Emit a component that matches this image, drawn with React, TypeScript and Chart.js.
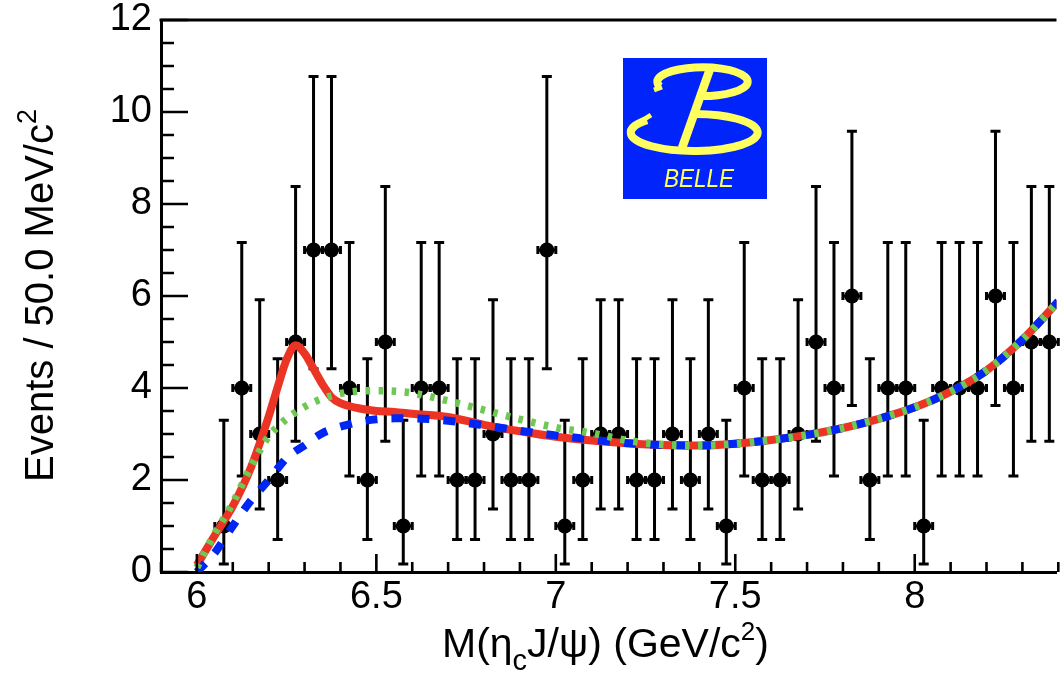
import React, { useEffect, useRef } from 'react';
import { Chart, registerables } from 'chart.js';

Chart.register(...registerables);

// ---------------- data ----------------
const binCenters = [
  6.075, 6.125, 6.175, 6.225, 6.275, 6.325, 6.375, 6.425, 6.475, 6.525,
  6.575, 6.625, 6.675, 6.725, 6.775, 6.825, 6.875, 6.925, 6.975, 7.025,
  7.075, 7.125, 7.175, 7.225, 7.275, 7.325, 7.375, 7.425, 7.475, 7.525,
  7.575, 7.625, 7.675, 7.725, 7.775, 7.825, 7.875, 7.925, 7.975, 8.025,
  8.075, 8.125, 8.175, 8.225, 8.275, 8.325, 8.375,
];
const counts = [
  1, 4, 3, 2, 5, 7, 7, 4, 2, 5,
  1, 4, 4, 2, 2, 3, 2, 2, 7, 1,
  2, 3, 3, 2, 2, 3, 2, 3, 1, 4,
  2, 2, 3, 5, 4, 6, 2, 4, 4, 1,
  4, 4, 4, 6, 4, 5, 5,
];
// asymmetric (Poisson) error sizes indexed by the bin count
const errLowByCount = [0, 0.827, 1.292, 1.633, 1.914, 2.16, 2.38, 2.581];
const errHighByCount = [1.841, 2.3, 2.638, 2.918, 3.162, 3.382, 3.583, 3.77];

const curveX = [
  6.0, 6.05, 6.1, 6.15, 6.2, 6.225, 6.25, 6.275, 6.3, 6.325, 6.35, 6.375, 6.4,
  6.45, 6.5, 6.55, 6.6, 6.7, 6.8, 6.9, 7.0, 7.1, 7.2, 7.3, 7.4, 7.5, 7.6, 7.7,
  7.8, 7.9, 8.0, 8.1, 8.2, 8.3, 8.4,
];
const totalFit = [
  0.15, 0.8, 1.43, 2.26, 3.38, 4.02, 4.62, 4.93, 4.75, 4.42, 4.08, 3.8, 3.67,
  3.56, 3.5, 3.48, 3.44, 3.37, 3.2, 3.06, 2.94, 2.86, 2.8, 2.76, 2.75, 2.79, 2.87, 2.98,
  3.13, 3.33, 3.58, 3.92, 4.38, 5.05, 5.88,
];
const bkgDashed = [
  0.0, 0.42, 1.0, 1.55, 2.0, 2.25, 2.48, 2.63, 2.75, 2.9, 3.02, 3.1, 3.16,
  3.26, 3.32, 3.34, 3.34, 3.29, 3.19, 3.07, 2.97, 2.88, 2.8, 2.76, 2.75, 2.79, 2.87, 2.98,
  3.13, 3.33, 3.58, 3.92, 4.38, 5.05, 5.88,
];
const bkgDotted = [
  0.1, 0.84, 1.5, 2.28, 2.95, 3.16, 3.33, 3.47, 3.59, 3.69, 3.77, 3.83, 3.88,
  3.93, 3.94, 3.93, 3.89, 3.72, 3.52, 3.32, 3.14, 3.02, 2.86, 2.77, 2.75, 2.79, 2.87, 2.98,
  3.13, 3.33, 3.58, 3.92, 4.38, 5.05, 5.88,
];

const xTickLabels = [6, 6.5, 7, 7.5, 8];
const yTickLabels = [0, 2, 4, 6, 8, 10, 12];

// ---------------- style ----------------
const FONT = '"Liberation Sans", Arial, Helvetica, sans-serif';
const RED = 'rgb(236, 52, 36)';
const BLUE = 'rgb(0, 38, 245)';
const GREEN = 'rgb(112, 200, 84)';
const BIN_HALF = 0.025;

const errorBarPlugin = {
  id: 'errorBars',
  beforeDatasetsDraw(chart: any) {
    const { ctx, scales } = chart;
    const xs = scales.x;
    const ys = scales.y;
    ctx.save();
    ctx.strokeStyle = '#000';
    ctx.lineWidth = 3;
    ctx.lineCap = 'butt';
    binCenters.forEach((c, i) => {
      const n = counts[i];
      const px = xs.getPixelForValue(c);
      const py = ys.getPixelForValue(n);
      const yTop = ys.getPixelForValue(n + errHighByCount[n]);
      const yBot = ys.getPixelForValue(n - errLowByCount[n]);
      const xl = xs.getPixelForValue(c - BIN_HALF);
      const xr = xs.getPixelForValue(c + BIN_HALF);
      ctx.beginPath();
      ctx.moveTo(px, yTop);
      ctx.lineTo(px, yBot);
      ctx.moveTo(px - 5, yTop);
      ctx.lineTo(px + 5, yTop);
      ctx.moveTo(px - 5, yBot);
      ctx.lineTo(px + 5, yBot);
      ctx.moveTo(xl, py);
      ctx.lineTo(xr, py);
      ctx.moveTo(xl, py - 4);
      ctx.lineTo(xl, py + 4);
      ctx.moveTo(xr, py - 4);
      ctx.lineTo(xr, py + 4);
      ctx.stroke();
    });
    ctx.restore();
  },
};

const framePlugin = {
  id: 'frame',
  afterDraw(chart: any) {
    const { ctx, chartArea, scales } = chart;
    const xs = scales.x;
    const ys = scales.y;
    ctx.save();
    ctx.strokeStyle = '#000';
    ctx.lineWidth = 3;
    ctx.beginPath();
    ctx.moveTo(chartArea.left - 1.5, chartArea.top);
    ctx.lineTo(chartArea.right, chartArea.top);
    ctx.stroke();
    ctx.lineWidth = 2.6;
    ctx.beginPath();
    for (let k = 59; k <= 84; k++) {
      const px = xs.getPixelForValue(k / 10);
      const len = k % 5 === 0 ? 18 : 10;
      ctx.moveTo(px, chartArea.bottom);
      ctx.lineTo(px, chartArea.bottom - len);
    }
    for (let k = 0; k <= 24; k++) {
      const py = ys.getPixelForValue(k / 2);
      const len = k % 4 === 0 ? 27 : 13;
      ctx.moveTo(chartArea.left, py);
      ctx.lineTo(chartArea.left + len, py);
    }
    ctx.stroke();
    ctx.restore();
  },
};

const drawRich = (ctx: CanvasRenderingContext2D, segs: { t: string; size: number; dy: number }[], x0: number, base: number) => {
  let x = x0;
  for (const s of segs) {
    ctx.font = `${s.size}px ${FONT}`;
    ctx.fillText(s.t, x, base + s.dy);
    x += ctx.measureText(s.t).width;
  }
};

const titlePlugin = {
  id: 'axisTitles',
  afterDraw(chart: any) {
    const { ctx } = chart;
    ctx.save();
    ctx.fillStyle = '#000';
    ctx.textBaseline = 'alphabetic';
    ctx.textAlign = 'left';
    drawRich(
      ctx,
      [
        { t: 'M(\u03B7', size: 41, dy: 0 },
        { t: 'c', size: 29, dy: 13 },
        { t: 'J/\u03C8) (GeV/c', size: 41, dy: 0 },
        { t: '2', size: 26, dy: -17 },
        { t: ')', size: 41, dy: 0 },
      ],
      442,
      657,
    );
    ctx.translate(53, 482);
    ctx.rotate(-Math.PI / 2);
    drawRich(
      ctx,
      [
        { t: 'Events / 50.0 MeV/c', size: 40, dy: 0 },
        { t: '2', size: 27, dy: -17 },
      ],
      0,
      0,
    );
    ctx.restore();
  },
};

const logoPlugin = {
  id: 'belleLogo',
  afterDraw(chart: any) {
    const { ctx } = chart;
    const L = 623;
    const T = 58;
    const d = (a: number) => (a * Math.PI) / 180;
    const YEL = 'rgb(255, 255, 95)';
    ctx.save();
    ctx.fillStyle = 'rgb(0, 36, 250)';
    ctx.fillRect(L, T, 144, 141);
    ctx.strokeStyle = YEL;
    ctx.lineCap = 'butt';
    ctx.lineWidth = 8;
    ctx.beginPath();
    ctx.ellipse(L + 79.5, T + 23.7, 45.2, 14.4, 0, d(160), d(457));
    ctx.stroke();
    ctx.beginPath();
    ctx.ellipse(L + 71.2, T + 74.5, 63.5, 18.5, 0, d(222), d(-88), true);
    ctx.stroke();
    ctx.lineWidth = 8.5;
    ctx.beginPath();
    ctx.moveTo(L + 87, T + 11);
    ctx.lineTo(L + 59, T + 90);
    ctx.stroke();
    ctx.lineWidth = 5;
    ctx.beginPath();
    ctx.moveTo(L + 39, T + 29);
    ctx.lineTo(L + 31, T + 32);
    ctx.moveTo(L + 20, T + 62);
    ctx.lineTo(L + 28, T + 57);
    ctx.stroke();
    ctx.fillStyle = YEL;
    ctx.font = `italic 25px ${FONT}`;
    ctx.textBaseline = 'alphabetic';
    ctx.translate(L + 41, T + 129);
    ctx.scale(0.9, 1);
    ctx.fillText('BELLE', 0, 0);
    ctx.restore();
  },
};

export default function App() {
  const canvasRef = useRef<HTMLCanvasElement | null>(null);

  useEffect(() => {
    const canvas = canvasRef.current;
    if (!canvas) return;
    const lineDs = (data: number[], color: string, width: number, dash: number[], order: number, label: string) => ({
      type: 'line' as const,
      label,
      data: curveX.map((x, i) => ({ x, y: data[i] })),
      borderColor: color,
      borderWidth: width,
      borderDash: dash,
      borderCapStyle: 'butt' as const,
      pointRadius: 0,
      fill: false,
      cubicInterpolationMode: 'monotone' as const,
      order,
    });
    const chart = new Chart(canvas, {
      type: 'scatter',
      data: {
        datasets: [
          lineDs(bkgDotted, GREEN, 7.5, [4.5, 8.5], 1, 'background 2'),
          lineDs(bkgDashed, BLUE, 8, [12, 14], 2, 'background'),
          lineDs(totalFit, RED, 8, [], 3, 'total fit'),
          {
            type: 'scatter' as const,
            label: 'data',
            data: binCenters.map((x, i) => ({ x, y: counts[i] })),
            pointRadius: 7.5,
            pointStyle: 'circle',
            backgroundColor: '#000',
            borderColor: '#000',
            borderWidth: 0,
            order: 4,
          },
        ],
      } as any,
      options: {
        animation: false,
        responsive: false,
        maintainAspectRatio: false,
        layout: { padding: { top: 20, right: 0, left: 0, bottom: 0 } },
        plugins: { legend: { display: false }, tooltip: { enabled: false }, title: { display: false } },
        scales: {
          x: {
            type: 'linear',
            min: 5.9,
            max: 8.395,
            grid: { display: false, drawTicks: false },
            border: { display: true, width: 3, color: '#000' },
            ticks: {
              color: '#000',
              font: { family: FONT, size: 38 },
              padding: 3,
              maxRotation: 0,
              autoSkip: false,
              callback: (v: any) => String(v),
            },
            afterBuildTicks: (s: any) => {
              s.ticks = xTickLabels.map((v) => ({ value: v }));
            },
            afterFit: (s: any) => {
              s.height = 103;
              s.paddingLeft = 0;
              s.paddingRight = 0;
            },
          },
          y: {
            type: 'linear',
            min: 0,
            max: 12,
            grid: { display: false, drawTicks: false },
            border: { display: true, width: 3, color: '#000' },
            ticks: {
              color: '#000',
              font: { family: FONT, size: 38 },
              padding: 9,
              autoSkip: false,
              callback: (v: any) => String(v),
            },
            afterBuildTicks: (s: any) => {
              s.ticks = yTickLabels.map((v) => ({ value: v }));
            },
            afterFit: (s: any) => {
              s.width = 161;
              s.paddingTop = 0;
              s.paddingBottom = 0;
            },
          },
        },
      } as any,
      plugins: [errorBarPlugin, framePlugin, titlePlugin, logoPlugin],
    });
    return () => chart.destroy();
  }, []);

  return (
    <div style={{ position: 'absolute', left: 0, top: 0, width: 1064, height: 675, background: '#fff', overflow: 'hidden' }}>
      <canvas ref={canvasRef} width={1064} height={675} style={{ display: 'block' }} />
    </div>
  );
}
